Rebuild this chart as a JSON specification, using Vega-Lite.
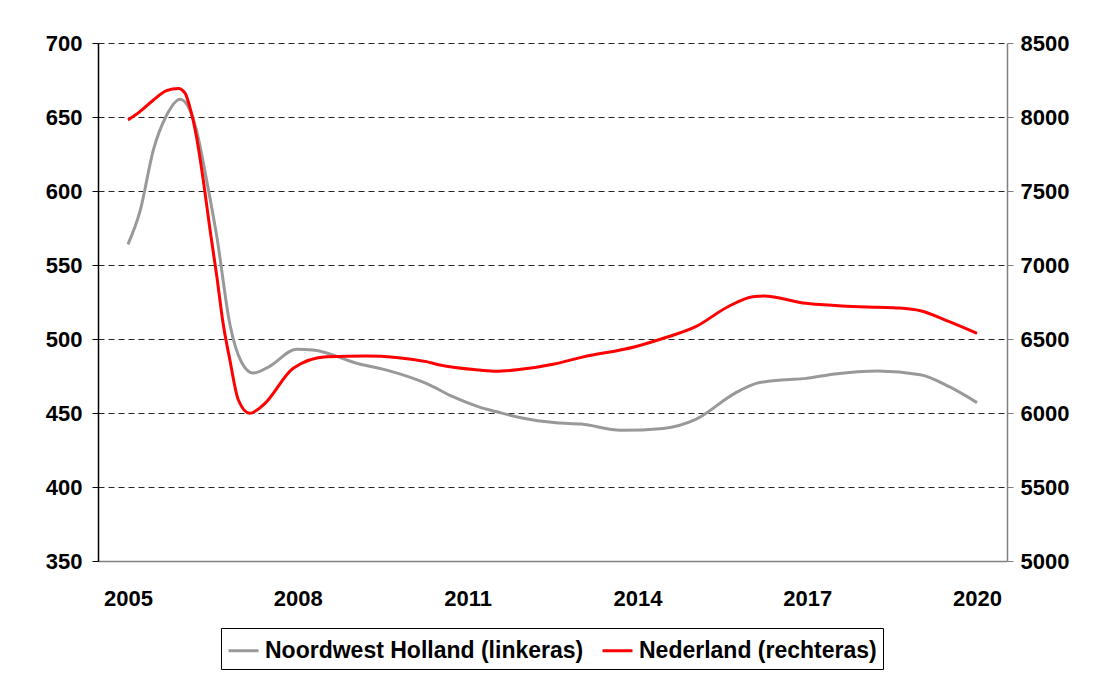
{
  "$schema": "https://vega.github.io/schema/vega-lite/v6.json",
  "width": 909,
  "height": 518,
  "autosize": {"type": "none"},
  "padding": {"left": 98, "top": 43, "right": 101, "bottom": 115},
  "background": "white",
  "config": {
    "view": {"stroke": null},
    "font": "Liberation Sans",
    "axis": {"labelFont": "Liberation Sans", "labelFontWeight": "bold", "labelFontSize": 22, "labelColor": "black", "title": null}
  },
  "data": {
    "values": [
      {"year": 2005.00, "series": "Noordwest Holland (linkeras)", "value": 564},
      {"year": 2005.21, "series": "Noordwest Holland (linkeras)", "value": 586},
      {"year": 2005.45, "series": "Noordwest Holland (linkeras)", "value": 628},
      {"year": 2005.68, "series": "Noordwest Holland (linkeras)", "value": 651},
      {"year": 2005.92, "series": "Noordwest Holland (linkeras)", "value": 662},
      {"year": 2006.09, "series": "Noordwest Holland (linkeras)", "value": 655},
      {"year": 2006.21, "series": "Noordwest Holland (linkeras)", "value": 641},
      {"year": 2006.39, "series": "Noordwest Holland (linkeras)", "value": 607},
      {"year": 2006.57, "series": "Noordwest Holland (linkeras)", "value": 569},
      {"year": 2006.80, "series": "Noordwest Holland (linkeras)", "value": 510},
      {"year": 2007.01, "series": "Noordwest Holland (linkeras)", "value": 484},
      {"year": 2007.21, "series": "Noordwest Holland (linkeras)", "value": 477},
      {"year": 2007.48, "series": "Noordwest Holland (linkeras)", "value": 481},
      {"year": 2007.98, "series": "Noordwest Holland (linkeras)", "value": 493},
      {"year": 2008.27, "series": "Noordwest Holland (linkeras)", "value": 492.6},
      {"year": 2009.04, "series": "Noordwest Holland (linkeras)", "value": 483.6},
      {"year": 2009.57, "series": "Noordwest Holland (linkeras)", "value": 479},
      {"year": 2010.27, "series": "Noordwest Holland (linkeras)", "value": 470},
      {"year": 2010.74, "series": "Noordwest Holland (linkeras)", "value": 461},
      {"year": 2011.21, "series": "Noordwest Holland (linkeras)", "value": 454},
      {"year": 2011.50, "series": "Noordwest Holland (linkeras)", "value": 451},
      {"year": 2011.94, "series": "Noordwest Holland (linkeras)", "value": 446.8},
      {"year": 2012.57, "series": "Noordwest Holland (linkeras)", "value": 443.4},
      {"year": 2013.01, "series": "Noordwest Holland (linkeras)", "value": 442.5},
      {"year": 2013.71, "series": "Noordwest Holland (linkeras)", "value": 438.3},
      {"year": 2014.46, "series": "Noordwest Holland (linkeras)", "value": 439.6},
      {"year": 2015.03, "series": "Noordwest Holland (linkeras)", "value": 445.7},
      {"year": 2015.72, "series": "Noordwest Holland (linkeras)", "value": 463.3},
      {"year": 2016.10, "series": "Noordwest Holland (linkeras)", "value": 470},
      {"year": 2016.54, "series": "Noordwest Holland (linkeras)", "value": 472.3},
      {"year": 2016.98, "series": "Noordwest Holland (linkeras)", "value": 473.4},
      {"year": 2017.49, "series": "Noordwest Holland (linkeras)", "value": 476.4},
      {"year": 2018.25, "series": "Noordwest Holland (linkeras)", "value": 478.4},
      {"year": 2019.00, "series": "Noordwest Holland (linkeras)", "value": 475.9},
      {"year": 2019.51, "series": "Noordwest Holland (linkeras)", "value": 467.8},
      {"year": 2020.00, "series": "Noordwest Holland (linkeras)", "value": 457},
      {"year": 2005.00, "series": "Nederland (rechteras)", "value": 7980},
      {"year": 2005.21, "series": "Nederland (rechteras)", "value": 8036},
      {"year": 2005.45, "series": "Nederland (rechteras)", "value": 8115},
      {"year": 2005.68, "series": "Nederland (rechteras)", "value": 8178},
      {"year": 2005.89, "series": "Nederland (rechteras)", "value": 8193},
      {"year": 2006.01, "series": "Nederland (rechteras)", "value": 8160},
      {"year": 2006.09, "series": "Nederland (rechteras)", "value": 8070},
      {"year": 2006.21, "series": "Nederland (rechteras)", "value": 7867},
      {"year": 2006.33, "series": "Nederland (rechteras)", "value": 7574},
      {"year": 2006.45, "series": "Nederland (rechteras)", "value": 7236},
      {"year": 2006.57, "series": "Nederland (rechteras)", "value": 6921},
      {"year": 2006.68, "series": "Nederland (rechteras)", "value": 6606},
      {"year": 2006.80, "series": "Nederland (rechteras)", "value": 6358},
      {"year": 2006.95, "series": "Nederland (rechteras)", "value": 6088},
      {"year": 2007.15, "series": "Nederland (rechteras)", "value": 5998},
      {"year": 2007.39, "series": "Nederland (rechteras)", "value": 6054},
      {"year": 2007.92, "series": "Nederland (rechteras)", "value": 6302},
      {"year": 2008.51, "series": "Nederland (rechteras)", "value": 6380},
      {"year": 2009.21, "series": "Nederland (rechteras)", "value": 6385},
      {"year": 2010.27, "series": "Nederland (rechteras)", "value": 6347},
      {"year": 2010.51, "series": "Nederland (rechteras)", "value": 6324},
      {"year": 2011.21, "series": "Nederland (rechteras)", "value": 6290},
      {"year": 2011.50, "series": "Nederland (rechteras)", "value": 6282},
      {"year": 2011.94, "series": "Nederland (rechteras)", "value": 6295},
      {"year": 2012.51, "series": "Nederland (rechteras)", "value": 6329},
      {"year": 2013.01, "series": "Nederland (rechteras)", "value": 6376},
      {"year": 2013.96, "series": "Nederland (rechteras)", "value": 6448},
      {"year": 2014.46, "series": "Nederland (rechteras)", "value": 6505},
      {"year": 2015.03, "series": "Nederland (rechteras)", "value": 6583},
      {"year": 2015.60, "series": "Nederland (rechteras)", "value": 6718},
      {"year": 2016.04, "series": "Nederland (rechteras)", "value": 6786},
      {"year": 2016.23, "series": "Nederland (rechteras)", "value": 6790},
      {"year": 2016.98, "series": "Nederland (rechteras)", "value": 6741},
      {"year": 2017.62, "series": "Nederland (rechteras)", "value": 6723},
      {"year": 2018.25, "series": "Nederland (rechteras)", "value": 6714},
      {"year": 2018.62, "series": "Nederland (rechteras)", "value": 6709},
      {"year": 2019.00, "series": "Nederland (rechteras)", "value": 6691},
      {"year": 2019.51, "series": "Nederland (rechteras)", "value": 6617},
      {"year": 2020.00, "series": "Nederland (rechteras)", "value": 6538}
    ]
  },
  "encoding": {
    "x": {
      "field": "year",
      "type": "quantitative",
      "scale": {"domain": [2004.47, 2020.53], "nice": false, "zero": false},
      "axis": {
        "orient": "bottom",
        "values": [2005, 2008, 2011, 2014, 2017, 2020],
        "format": "d",
        "grid": false,
        "ticks": false,
        "domainColor": "#808080",
        "domainWidth": 1.5,
        "labelPadding": 27
      }
    },
    "color": {
      "field": "series",
      "type": "nominal",
      "scale": {
        "domain": ["Noordwest Holland (linkeras)", "Nederland (rechteras)"],
        "range": ["#999999", "#ff0000"]
      },
      "legend": {
        "title": null,
        "orient": "none",
        "legendX": 123,
        "legendY": 585,
        "direction": "horizontal",
        "strokeColor": "black",
        "padding": 6,
        "symbolType": "stroke",
        "symbolStrokeWidth": 3,
        "symbolSize": 900,
        "labelFont": "Liberation Sans",
        "labelFontWeight": "bold",
        "labelFontSize": 23,
        "labelColor": "black",
        "labelLimit": 400,
        "columnPadding": 12,
        "labelOffset": 5
      }
    }
  },
  "layer": [
    {
      "transform": [{"filter": "datum.series === 'Noordwest Holland (linkeras)'"}],
      "mark": {"type": "line", "strokeWidth": 3, "interpolate": "monotone"},
      "encoding": {
        "y": {
          "field": "value",
          "type": "quantitative",
          "scale": {"domain": [350, 700], "nice": false, "zero": false},
          "axis": {
            "orient": "left",
            "values": [350, 400, 450, 500, 550, 600, 650, 700],
            "grid": true,
            "gridColor": "black",
            "gridDash": [6, 4],
            "gridWidth": 1,
            "gridOpacity": 0.85,
            "domainColor": "black",
            "domainWidth": 1.5,
            "tickColor": "black",
            "tickSize": 6,
            "labelPadding": 10
          }
        }
      }
    },
    {
      "transform": [{"filter": "datum.series === 'Nederland (rechteras)'"}],
      "mark": {"type": "line", "strokeWidth": 3, "interpolate": "monotone"},
      "encoding": {
        "y": {
          "field": "value",
          "type": "quantitative",
          "scale": {"domain": [5000, 8500], "nice": false, "zero": false},
          "axis": {
            "orient": "right",
            "values": [5000, 5500, 6000, 6500, 7000, 7500, 8000, 8500],
            "format": "d",
            "grid": false,
            "domainColor": "#808080",
            "domainWidth": 1.5,
            "tickColor": "#808080",
            "tickSize": 6,
            "labelPadding": 7
          }
        }
      }
    }
  ],
  "resolve": {"scale": {"y": "independent"}}
}
